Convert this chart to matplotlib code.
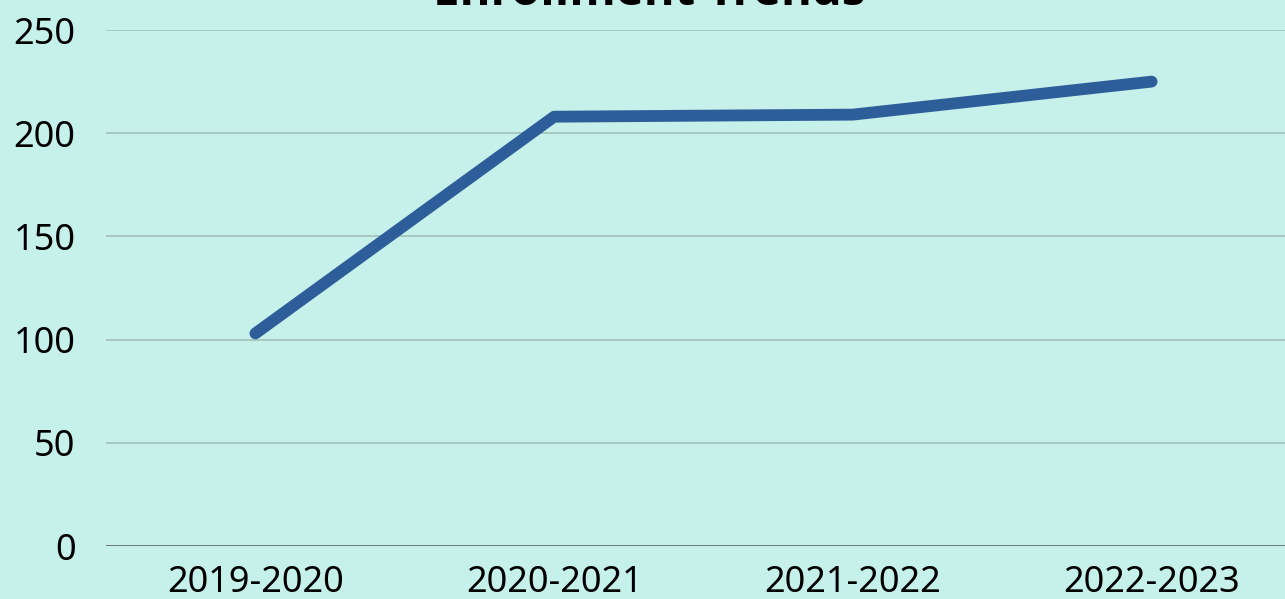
import matplotlib.pyplot as plt

# Data
years = ["2019-2020", "2020-2021", "2021-2022", "2022-2023"]
enrollment = [103, 208, 209, 225]

plt.rcParams["font.family"] = ["Noto Sans", "DejaVu Sans"]

bg = "#C6F0EA"

# Create the chart
fig = plt.figure(figsize=(12.85, 5.99), dpi=100, facecolor=bg)
ax = fig.add_axes([106 / 1285, 53 / 599, 1195 / 1285, 516 / 599], facecolor=bg)

ax.plot(range(len(years)), enrollment, color="#2E5E9A", linewidth=8.5,
        solid_capstyle="round", solid_joinstyle="round", zorder=3)

ax.set_xlim(-0.5, len(years) - 0.5)
ax.set_ylim(0, 250)
ax.set_yticks(range(0, 251, 50))
ax.set_xticks(range(len(years)))
ax.set_xticklabels(years)

# Grid and spines
ax.grid(axis="y", color="#9FC0B8", linewidth=1.2)
ax.set_axisbelow(True)
for s in ax.spines.values():
    s.set_visible(False)
ax.axhline(0, color="#6F7875", linewidth=1.4, zorder=2)

ax.tick_params(length=0, labelsize=26, colors="black")
ax.tick_params(axis="y", pad=22)
ax.tick_params(axis="x", pad=14)

# Title (cut off at top as in the original)
fig.text(0.505, 1 - 5 / 599, "Enrollment Trends", ha="center", va="baseline",
         fontsize=34, fontweight="bold", family="Open Sans")

fig.savefig("out.png", dpi=100, facecolor=bg)
